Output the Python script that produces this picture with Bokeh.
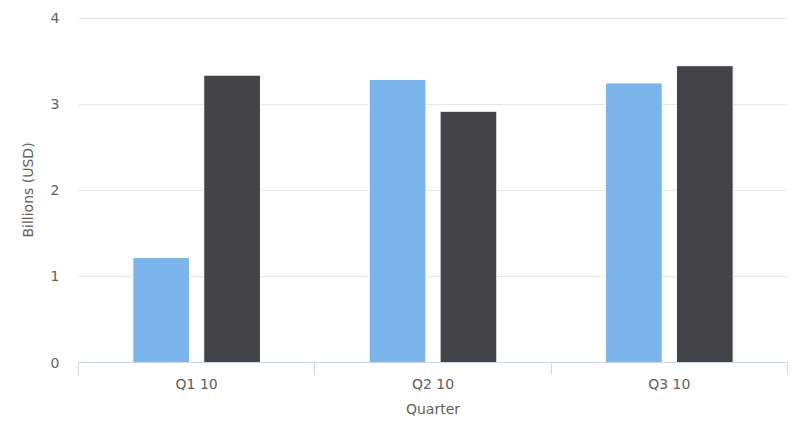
import numpy as np
from bokeh.plotting import figure
from bokeh.models import FixedTicker, CustomJSTickFormatter, Range1d, ColumnDataSource
from bokeh.embed import file_html
from bokeh.resources import INLINE

quarters = ["Q1 10", "Q2 10", "Q3 10"]
series_a = [1.22, 3.29, 3.25]
series_b = [3.34, 2.92, 3.45]
y_ticks = [0, 1, 2, 3, 4]

FONT = "DejaVu Sans"
TXT = "#606060"

centers = np.arange(len(quarters)) + 0.5
src = ColumnDataSource(dict(
    xa=centers - 0.15, xb=centers + 0.15,
    a=series_a, b=series_b, q=quarters,
))

p = figure(width=792, height=437, output_backend="svg", toolbar_location=None,
           x_range=Range1d(0, len(quarters)), y_range=Range1d(0, 4.01),
           min_border_left=78, min_border_right=5, min_border_top=17, min_border_bottom=75)
p.outline_line_color = None
p.background_fill_color = "white"

p.vbar(x="xa", top="a", width=0.24, source=src, fill_color="#7cb5ec",
       line_color="white", line_width=1)
p.vbar(x="xb", top="b", width=0.24, source=src, fill_color="#434348",
       line_color="white", line_width=1)

# y axis
ya = p.yaxis[0]
ya.ticker = FixedTicker(ticks=y_ticks)
ya.axis_line_color = None
ya.major_tick_line_color = None
ya.minor_tick_line_color = None
ya.major_label_standoff = 13
ya.major_label_text_font = FONT
ya.major_label_text_font_size = "14px"
ya.major_label_text_color = TXT
ya.axis_label = "Billions (USD)"
ya.axis_label_text_font = FONT
ya.axis_label_text_font_size = "14px"
ya.axis_label_text_font_style = "normal"
ya.axis_label_text_color = TXT
ya.axis_label_standoff = 12

# x axis
xa = p.xaxis[0]
xa.ticker = FixedTicker(ticks=list(centers), minor_ticks=list(range(len(quarters) + 1)))
xa.formatter = CustomJSTickFormatter(args=dict(labels=quarters),
                                     code="return labels[Math.floor(tick)] || '';")
xa.axis_line_color = "#ccd6eb"
xa.axis_line_width = 1
xa.major_tick_line_color = None
xa.major_tick_out = 0
xa.minor_tick_line_color = "#ccd6eb"
xa.minor_tick_out = 12
xa.minor_tick_in = 0
xa.major_label_standoff = 1
xa.major_label_text_font = FONT
xa.major_label_text_font_size = "14px"
xa.major_label_text_color = TXT
xa.axis_label = "Quarter"
xa.axis_label_text_font = FONT
xa.axis_label_text_font_size = "14px"
xa.axis_label_text_font_style = "normal"
xa.axis_label_text_color = TXT
xa.axis_label_standoff = 6

p.xgrid.grid_line_color = None
p.ygrid.grid_line_color = "#e6e6e6"
p.ygrid.grid_line_width = 1

open("out.html", "w").write(file_html(p, INLINE))
